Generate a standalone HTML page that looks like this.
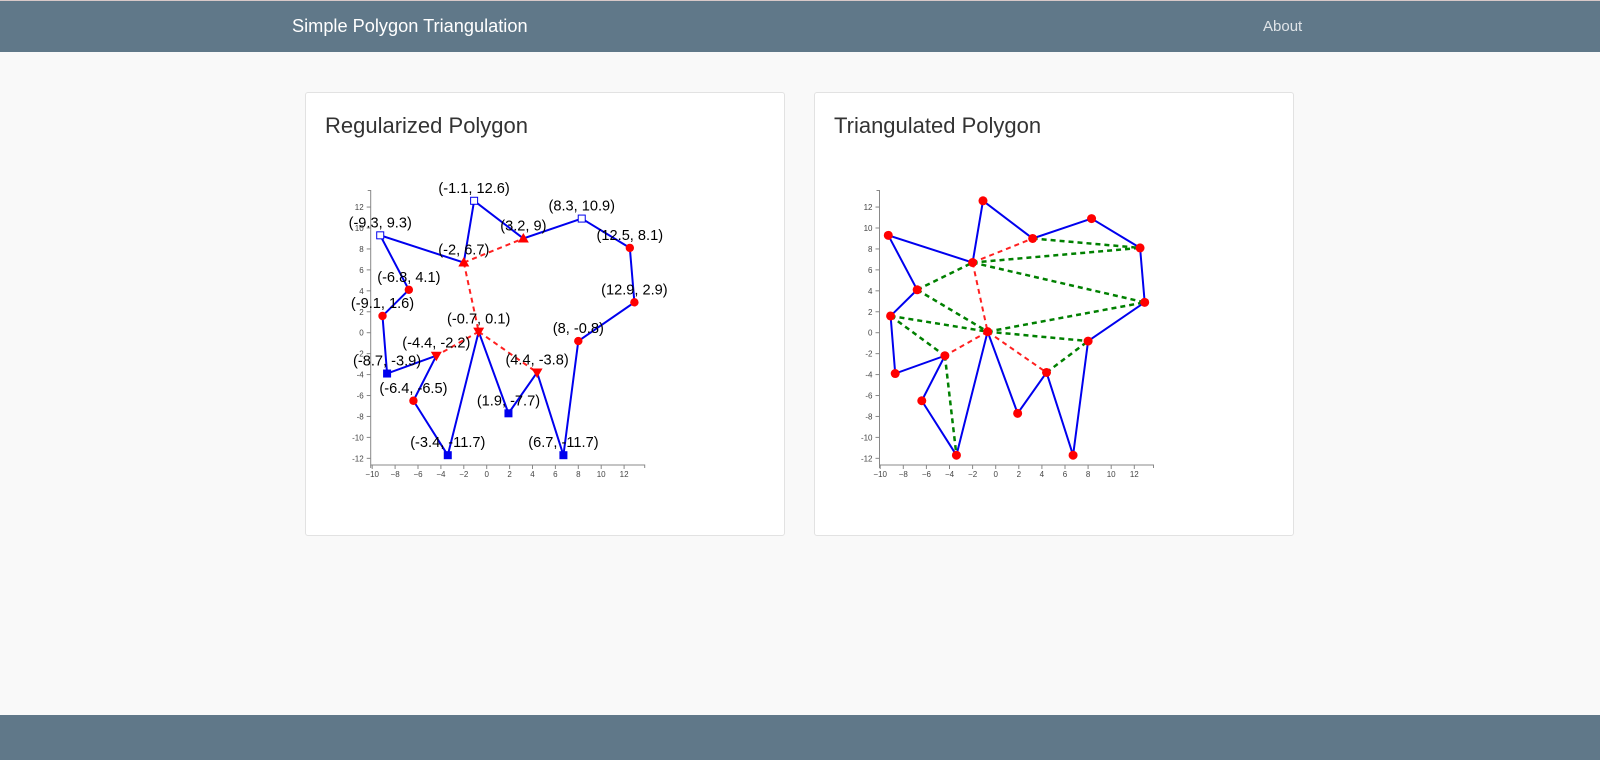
<!DOCTYPE html>
<html><head><meta charset="utf-8">
<style>
body{margin:0;width:1600px;height:760px;background:#f9f9f9;font-family:"Liberation Sans",sans-serif;position:relative;overflow:hidden}
.nav{position:absolute;left:0;top:0;width:1600px;height:52px;background:#607889;border-top:1px solid #d8c8c8;box-sizing:border-box}
.brand{position:absolute;left:292px;top:15px;font-size:18.2px;color:#fff}
.about{position:absolute;left:1263px;top:17px;font-size:15px;color:#dfe4e8}
.foot{position:absolute;left:0;top:715px;width:1600px;height:45px;background:#607889}
.card{position:absolute;top:92px;width:480px;height:444px;background:#fff;border:1px solid #e2e2e2;border-radius:3px;box-sizing:border-box}
.card h2{position:absolute;left:19px;top:20px;margin:0;font-weight:normal;font-size:22px;color:#333}
svg{position:absolute;left:0;top:0}
</style></head><body>
<div class="nav"><span class="brand">Simple Polygon Triangulation</span><span class="about">About</span></div>
<div class="card" style="left:305px"><h2>Regularized Polygon</h2></div>
<div class="card" style="left:814px"><h2>Triangulated Polygon</h2></div>
<div class="foot"></div>
<svg id="s" width="1600" height="760" xmlns="http://www.w3.org/2000/svg"></svg>
<script>
const P=[[-9.3,9.3,'os'],[-2,6.7,'ut'],[-1.1,12.6,'os'],[3.2,9,'ut'],[8.3,10.9,'os'],[12.5,8.1,'c'],[12.9,2.9,'c'],[8,-0.8,'c'],[6.7,-11.7,'fs'],[4.4,-3.8,'dt'],[1.9,-7.7,'fs'],[-0.7,0.1,'dt'],[-3.4,-11.7,'fs'],[-6.4,-6.5,'c'],[-4.4,-2.2,'dt'],[-8.7,-3.9,'fs'],[-9.1,1.6,'c'],[-6.8,4.1,'c']];
const RED=[[[-2,6.7],[3.2,9]],[[-2,6.7],[-0.7,0.1]],[[-0.7,0.1],[-4.4,-2.2]],[[-0.7,0.1],[4.4,-3.8]]];
const GREEN=[[[3.2,9],[12.5,8.1]],[[-2,6.7],[12.5,8.1]],[[-2,6.7],[12.9,2.9]],[[-6.8,4.1],[-2,6.7]],[[-6.8,4.1],[-0.7,0.1]],[[-9.1,1.6],[-0.7,0.1]],[[-0.7,0.1],[8,-0.8]],[[-0.7,0.1],[12.9,2.9]],[[-9.1,1.6],[-4.4,-2.2]],[[-4.4,-2.2],[-3.4,-11.7]],[[4.4,-3.8],[8,-0.8]]];
let h='';
function chart(x0,sx,ax,tri){
 const X=x=>x0+sx*x, Y=y=>332.7-10.47*y;
 const axR=ax+274;
 h+=`<g stroke="#888" stroke-width="1" fill="none"><path d="M${ax-3},190.5H${ax}V465H${axR}V468"/><path d="M${ax},465V468"/></g>`;
 for(let v=-12;v<=12;v+=2){const y=Y(v);h+=`<line x1="${ax-4}" x2="${ax}" y1="${y}" y2="${y}" stroke="#888"/><text x="${ax-7}" y="${y+3}" font-size="8" fill="#444" text-anchor="end">${v}</text>`;}
 for(let v=-10;v<=12;v+=2){const x=X(v);h+=`<line x1="${x}" x2="${x}" y1="465" y2="469" stroke="#888"/><text x="${x}" y="477" font-size="8" fill="#444" text-anchor="middle">${v<0?'\u2212'+(-v):v}</text>`;}
 const dl=(L,c,w)=>L.forEach(s=>h+=`<line x1="${X(s[0][0])}" y1="${Y(s[0][1])}" x2="${X(s[1][0])}" y2="${Y(s[1][1])}" stroke="${c}" stroke-width="${w}" stroke-dasharray="5,4"/>`);
 h+=`<polygon points="${P.map(p=>X(p[0])+','+Y(p[1])).join(' ')}" fill="none" stroke="#0000ee" stroke-width="2"/>`;
 dl(RED,'#ff2020',2);
 if(tri){dl(GREEN,'#008000',2.5);P.forEach(p=>h+=`<circle cx="${X(p[0])}" cy="${Y(p[1])}" r="4.5" fill="red"/>`);}
 else{
  P.forEach(p=>{const x=X(p[0]),y=Y(p[1]);
   if(p[2]=='c')h+=`<circle cx="${x}" cy="${y}" r="4.2" fill="red"/>`;
   if(p[2]=='os')h+=`<rect x="${x-3.5}" y="${y-3.5}" width="7" height="7" fill="#fff" stroke="#0000ee"/>`;
   if(p[2]=='fs')h+=`<rect x="${x-4}" y="${y-4}" width="8" height="8" fill="#0000ee"/>`;
   if(p[2]=='ut')h+=`<path d="M${x},${y-5.5}L${x+5.5},${y+4}H${x-5.5}Z" fill="red"/>`;
   if(p[2]=='dt')h+=`<path d="M${x},${y+5.5}L${x+5.5},${y-4}H${x-5.5}Z" fill="red"/>`;
   h+=`<text x="${x}" y="${y-8}" font-size="14.6" text-anchor="middle" fill="#000">(${p[0]}, ${p[1]})</text>`;
  });
 }
}
chart(486.7,11.45,370.7,false);
chart(995.7,11.55,879.5,true);
document.getElementById('s').innerHTML=h;
</script>
</body></html>
